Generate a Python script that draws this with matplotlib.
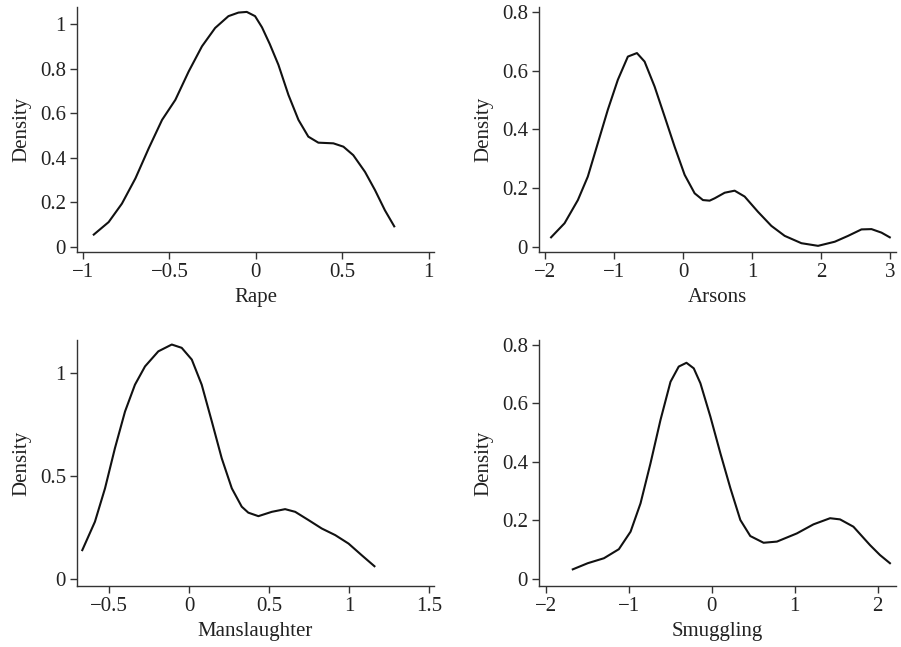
import matplotlib
matplotlib.use("Agg")
import matplotlib.pyplot as plt

plt.rcParams['font.family'] = ['Liberation Serif', 'DejaVu Serif']
plt.rcParams['axes.unicode_minus'] = True

# Rape
rape_x = [-0.938, -0.852, -0.775, -0.697, -0.620, -0.543, -0.466, -0.389, -0.312, -0.236,
          -0.159, -0.101, -0.053, -0.005, 0.035, 0.080, 0.130, 0.188, 0.246, 0.303,
          0.361, 0.448, 0.506, 0.563, 0.631, 0.689, 0.746, 0.800]
rape_y = [0.056, 0.112, 0.195, 0.308, 0.443, 0.570, 0.660, 0.787, 0.900, 0.982,
          1.035, 1.051, 1.054, 1.035, 0.985, 0.910, 0.817, 0.682, 0.570, 0.495,
          0.468, 0.465, 0.450, 0.412, 0.337, 0.255, 0.165, 0.093]

# Arsons
arson_x = [-1.915, -1.720, -1.527, -1.383, -1.238, -1.093, -0.948, -0.803, -0.672, -0.561,
           -0.416, -0.271, -0.126, 0.019, 0.164, 0.284, 0.381, 0.454, 0.599, 0.743,
           0.888, 1.081, 1.275, 1.468, 1.710, 1.951, 2.193, 2.386, 2.580, 2.725,
           2.870, 2.990]
arson_y = [0.032, 0.080, 0.159, 0.239, 0.353, 0.467, 0.569, 0.648, 0.660, 0.631,
           0.546, 0.444, 0.341, 0.245, 0.182, 0.159, 0.157, 0.165, 0.184, 0.191,
           0.171, 0.119, 0.071, 0.037, 0.012, 0.003, 0.017, 0.037, 0.059, 0.060,
           0.048, 0.032]

# Manslaughter
mans_x = [-0.667, -0.588, -0.525, -0.463, -0.400, -0.338, -0.275, -0.192, -0.108, -0.046,
          0.017, 0.079, 0.142, 0.204, 0.267, 0.329, 0.370, 0.433, 0.517, 0.600,
          0.663, 0.746, 0.829, 0.913, 0.996, 1.079, 1.158]
mans_y = [0.140, 0.278, 0.440, 0.635, 0.813, 0.943, 1.032, 1.105, 1.138, 1.122,
          1.065, 0.943, 0.765, 0.586, 0.440, 0.351, 0.322, 0.305, 0.326, 0.339,
          0.326, 0.286, 0.245, 0.213, 0.172, 0.115, 0.062]

# Smuggling
smug_x = [-1.673, -1.493, -1.298, -1.118, -0.977, -0.857, -0.737, -0.617, -0.496, -0.397,
          -0.304, -0.216, -0.136, -0.016, 0.105, 0.225, 0.345, 0.465, 0.625, 0.786,
          1.026, 1.226, 1.426, 1.546, 1.707, 1.907, 2.027, 2.147]
smug_y = [0.032, 0.053, 0.070, 0.101, 0.161, 0.258, 0.395, 0.543, 0.674, 0.726,
          0.739, 0.720, 0.669, 0.555, 0.429, 0.310, 0.201, 0.146, 0.123, 0.127,
          0.155, 0.186, 0.207, 0.203, 0.178, 0.115, 0.081, 0.053]

xlabels = ["Rape", "Arsons", "Manslaughter", "Smuggling"]
xticks = [[-1, -0.5, 0, 0.5, 1], [-2, -1, 0, 1, 2, 3], [-0.5, 0, 0.5, 1, 1.5], [-2, -1, 0, 1, 2]]
yticks = [[0, 0.2, 0.4, 0.6, 0.8, 1], [0, 0.2, 0.4, 0.6, 0.8], [0, 0.5, 1], [0, 0.2, 0.4, 0.6, 0.8]]

W, H = 901, 647
fig = plt.figure(figsize=(W / 100, H / 100), dpi=100)

# axes boxes in pixels: left, right, top, bottom
boxes = [(77, 434, 7, 252), (539, 896, 7, 252), (77, 434, 340, 586), (539, 896, 340, 586)]
xlims = [(-1.035, 1.03), (-2.09, 3.08), (-0.70, 1.53), (-2.08, 2.22)]
ylims = [(-0.022, 1.076), (-0.018, 0.817), (-0.034, 1.16), (-0.025, 0.817)]
data = [(rape_x, rape_y), (arson_x, arson_y), (mans_x, mans_y), (smug_x, smug_y)]

def fmt(v):
    s = ('%g' % v)
    return s.replace('-', '\u2212')

for i in range(4):
    l, r, t, b = boxes[i]
    ax = fig.add_axes([l / W, 1 - b / H, (r - l) / W, (b - t) / H])
    x, y = data[i]
    ax.plot(x, y, color='#111111', lw=1.5, solid_joinstyle='round')
    ax.set_xlim(*xlims[i])
    ax.set_ylim(*ylims[i])
    ax.set_xticks(xticks[i])
    ax.set_xticklabels([fmt(v) for v in xticks[i]])
    ax.set_yticks(yticks[i])
    ax.set_yticklabels([fmt(v) for v in yticks[i]])
    for s in ['top', 'right']:
        ax.spines[s].set_visible(False)
    for s in ['left', 'bottom']:
        ax.spines[s].set_color('#333333')
        ax.spines[s].set_linewidth(1.0)
    ax.tick_params(direction='out', length=5, width=1.0, color='#333333',
                   labelsize=15, labelcolor='#222222', pad=3)
    ax.set_xlabel(xlabels[i], fontsize=15, color='#222222', labelpad=4)
    ax.set_ylabel('Density', fontsize=15, color='#222222', labelpad=6)

fig.savefig('out.png', dpi=100)
